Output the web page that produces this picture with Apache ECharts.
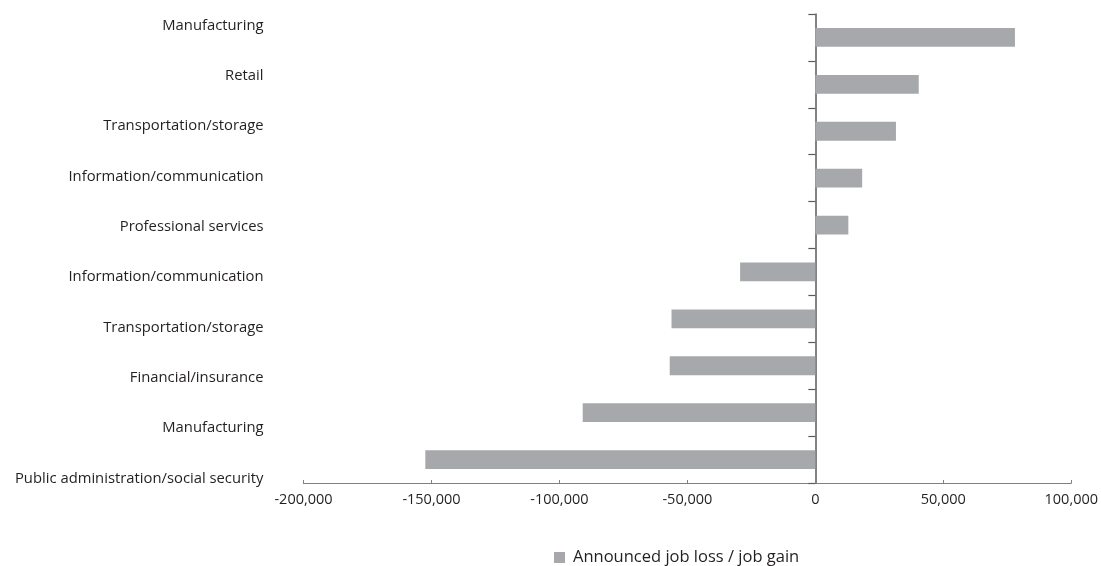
<!DOCTYPE html>
<html>
<head>
<meta charset="utf-8">
<script src="https://cdn.jsdelivr.net/npm/echarts@6/dist/echarts.min.js"></script>
<style>
html,body{margin:0;padding:0;background:#fff;}
#chart{width:1101px;height:566px;}
</style>
</head>
<body>
<div id="chart"></div>
<script>
const categories = [
  'Manufacturing',
  'Retail',
  'Transportation/storage',
  'Information/communication',
  'Professional services',
  'Information/communication',
  'Transportation/storage',
  'Financial/insurance',
  'Manufacturing',
  'Public administration/social security'
];
const values = [78000, 40400, 31500, 18300, 12900, -29400, -56200, -56900, -90900, -152400];
const seriesName = 'Announced job loss / job gain';
const xMin = -200000, xMax = 100000, xInterval = 50000;

const font = '"Open Sans", "Noto Sans", sans-serif';
const chart = echarts.init(document.getElementById('chart'), null, {renderer: 'canvas'});
chart.setOption({
  animation: false,
  backgroundColor: '#ffffff',
  textStyle: {fontFamily: font},
  grid: [
    {left: 303.5, right: 25.5, top: 14, bottom: 83, containLabel: false},
    {left: 303.5, right: 25.5, top: 0.5, bottom: 62.5, containLabel: false}
  ],
  legend: {
    data: [seriesName],
    left: 549, top: 544,
    itemWidth: 11, itemHeight: 11,
    icon: 'rect',
    textStyle: {fontSize: 16.5, color: '#231f20', fontFamily: font, padding: [0, 0, 0, 3]}
  },
  xAxis: [
    {
      type: 'value', gridIndex: 0, min: xMin, max: xMax, interval: xInterval,
      splitLine: {show: false},
      axisLine: {show: true, onZero: false, lineStyle: {color: '#808080', width: 1.2}},
      axisTick: {show: true, inside: true, length: 3, lineStyle: {color: '#808080'}},
      axisLabel: {
        fontSize: 14.5, color: '#231f20', margin: 9, fontFamily: font,
        formatter: v => v.toLocaleString('en-US')
      }
    },
    {
      type: 'value', gridIndex: 1, min: xMin, max: xMax, show: false
    }
  ],
  yAxis: [
    {
      type: 'category', gridIndex: 0, data: categories, inverse: true,
      axisLine: {show: true, onZero: true, lineStyle: {color: '#58595b', width: 1.5}},
      axisTick: {show: true, length: 7, lineStyle: {color: '#58595b', width: 1.2}},
      axisLabel: {show: false}
    },
    {
      type: 'category', gridIndex: 1, data: categories, inverse: true,
      axisLine: {show: false, onZero: false},
      axisTick: {show: false},
      axisLabel: {show: true, fontSize: 14.8, color: '#231f20', margin: 40, fontFamily: font}
    }
  ],
  series: [
    {
      name: seriesName,
      type: 'bar',
      xAxisIndex: 0, yAxisIndex: 0,
      data: values,
      barCategoryGap: '60%',
      itemStyle: {color: '#a7a8ab'}
    }
  ]
});
</script>
</body>
</html>
